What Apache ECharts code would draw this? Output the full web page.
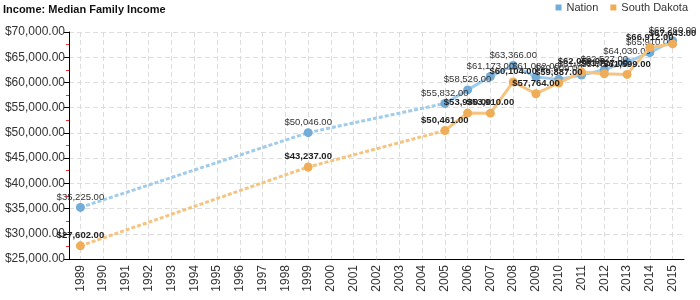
<!DOCTYPE html>
<html><head><meta charset="utf-8">
<script src="https://cdn.jsdelivr.net/npm/echarts@6/dist/echarts.min.js"></script>
<style>html,body{margin:0;padding:0;background:#fff}#c{width:700px;height:300px}</style>
</head><body><div id="c"></div>
<script>
const years = ['1989','1990','1991','1992','1993','1994','1995','1996','1997','1998','1999','2000','2001','2002','2003','2004','2005','2006','2007','2008','2009','2010','2011','2012','2013','2014','2015'];
const nation = [35225,null,null,null,null,null,null,null,null,null,50046,null,null,null,null,null,55832,58526,61173,63366,61082,60609,61455,62527,64030,65910,68260];
const southDakota = [27602,null,null,null,null,null,null,null,null,null,43237,null,null,null,null,null,50461,53930,53910,60104,57764,59887,62059,61727,61599,66912,67643];
const yTicks = {min:25000, max:70000, interval:5000};

// dashed connector data: only up to first point of continuous run (2005)
function gapPart(arr){ return arr.map((v,i)=> i<=16 ? v : null); }

const blue = '#72acd9', blueLine = '#a2cceb';
const orange = '#f0ad58', orangeLine = '#f5c480';
const fmt = v => '$' + v.toLocaleString('en-US',{minimumFractionDigits:2,maximumFractionDigits:2});

const chart = echarts.init(document.getElementById('c'));
chart.setOption({
  animation:false,
  textStyle:{fontFamily:'Liberation Sans, Arial, sans-serif'},
  title:{text:'Income: Median Family Income',left:3,top:4,padding:0,textStyle:{fontSize:11,fontWeight:'bold',color:'#111'}},
  legend:{data:['Nation','South Dakota'],right:12,top:2,padding:0,icon:'rect',itemWidth:6,itemHeight:6,itemGap:12,
    textStyle:{fontSize:11,color:'#333'}},
  grid:{left:69,right:16,top:32,bottom:41,containLabel:false},
  xAxis:{type:'category',data:years,boundaryGap:true,
    axisLine:{lineStyle:{color:'#000',width:1}},
    axisTick:{alignWithLabel:true,length:5,lineStyle:{color:'#000'}},
    axisLabel:{rotate:90,fontSize:12,color:'#333',margin:6,interval:0},
    splitLine:{show:true,alignWithLabel:true,lineStyle:{color:'#ddd',type:[5,3]}}},
  yAxis:{type:'value',min:yTicks.min,max:yTicks.max,interval:yTicks.interval,
    axisLine:{show:true,lineStyle:{color:'#000'}},
    axisTick:{show:true,length:5,lineStyle:{color:'#000'}},
    minorTick:{show:true,splitNumber:2,length:3,lineStyle:{color:'#e33'}},
    axisLabel:{fontSize:12,color:'#333',margin:4,formatter:v=>fmt(v)},
    splitLine:{show:true,lineStyle:{color:'#ddd',type:[5,3]}}},
  series:[
    {name:'Nation',type:'line',data:gapPart(nation),connectNulls:true,showSymbol:false,symbol:'none',silent:true,
      lineStyle:{color:blueLine,width:3,type:[4,2]},itemStyle:{color:blue},z:1},
    {name:'South Dakota',type:'line',data:gapPart(southDakota),connectNulls:true,showSymbol:false,symbol:'none',silent:true,
      lineStyle:{color:orangeLine,width:3,type:[4,2]},itemStyle:{color:orange},z:1},
    {name:'Nation',type:'line',data:nation,connectNulls:false,symbol:'circle',symbolSize:9,showAllSymbol:true,
      lineStyle:{color:blueLine,width:3},itemStyle:{color:blue},z:2,
      label:{show:true,position:'top',distance:1,fontSize:9.5,color:'#333',formatter:p=>fmt(p.value)}},
    {name:'South Dakota',type:'line',data:southDakota,connectNulls:false,symbol:'circle',symbolSize:9,showAllSymbol:true,
      lineStyle:{color:orangeLine,width:3},itemStyle:{color:orange},z:3,
      label:{show:true,position:'top',distance:1,fontSize:9.5,fontWeight:'bold',color:'#222',formatter:p=>fmt(p.value)}}
  ]
});
</script></body></html>
